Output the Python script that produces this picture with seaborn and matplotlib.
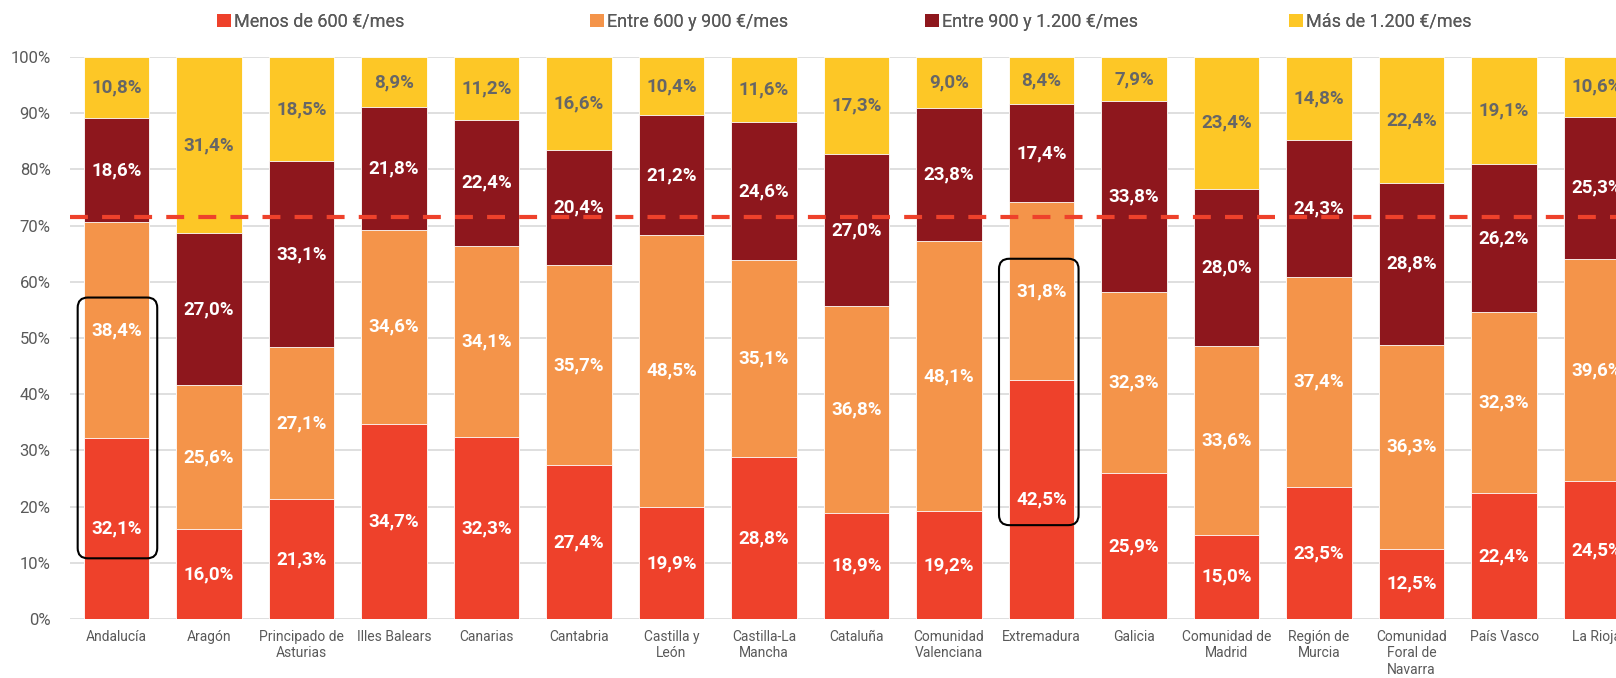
"""Distribución de ingresos por comunidad autónoma (barras apiladas al 100%)."""

import matplotlib.pyplot as plt
import numpy as np
import seaborn as sns
from matplotlib.patches import FancyBboxPatch, Patch

# ---------------------------------------------------------------------------
# Data
# ---------------------------------------------------------------------------

regions = [
    "Andalucía", "Aragón", "Principado de\nAsturias", "Illes Balears", "Canarias",
    "Cantabria", "Castilla y\nLeón", "Castilla-La\nMancha", "Cataluña",
    "Comunidad\nValenciana", "Extremadura", "Galicia", "Comunidad de\nMadrid",
    "Región de\nMurcia", "Comunidad\nForal de\nNavarra", "País Vasco", "La Rioja",
]
menos_600 = [32.1, 16.0, 21.3, 34.7, 32.3, 27.4, 19.9, 28.8, 18.9, 19.2, 42.5, 25.9, 15.0, 23.5, 12.5, 22.4, 24.5]
entre_600_900 = [38.4, 25.6, 27.1, 34.6, 34.1, 35.7, 48.5, 35.1, 36.8, 48.1, 31.8, 32.3, 33.6, 37.4, 36.3, 32.3, 39.6]
entre_900_1200 = [18.6, 27.0, 33.1, 21.8, 22.4, 20.4, 21.2, 24.6, 27.0, 23.8, 17.4, 33.8, 28.0, 24.3, 28.8, 26.2, 25.3]
mas_1200 = [10.8, 31.4, 18.5, 8.9, 11.2, 16.6, 10.4, 11.6, 17.3, 9.0, 8.4, 7.9, 23.4, 14.8, 22.4, 19.1, 10.6]

series_names = ["Menos de 600 €/mes", "Entre 600 y 900 €/mes",
                "Entre 900 y 1.200 €/mes", "Más de 1.200 €/mes"]
series_colors = ["#EE412B", "#F4944A", "#8E171D", "#FDC726"]
label_colors = ["white", "white", "white", "#666666"]

reference_line = 71.5          # dashed horizontal reference
highlighted = {"Andalucía": (-0.42, 0.44, 10.8, 57.2),
               "Extremadura": (-0.46, 0.40, 16.7, 64.1)}

# ---------------------------------------------------------------------------
# Plot
# ---------------------------------------------------------------------------

sns.set_theme(style="white")
plt.rcParams["font.family"] = ["Roboto", "DejaVu Sans"]

fig = plt.figure(figsize=(16.16, 6.78), dpi=100)
ax = fig.add_axes([70 / 1616, 59 / 678, 1 - 70 / 1616, 562 / 678])

layers = np.array([menos_600, entre_600_900, entre_900_1200, mas_1200])
# 100% stacked: rescale so rounding (99.9 / 100.1) still fills the bar.
shares = layers / layers.sum(axis=0) * 100
cum = np.cumsum(shares, axis=0)

# Draw cumulative totals from the top layer down so each layer sits on the previous one.
for k in range(len(layers) - 1, -1, -1):
    sns.barplot(x=regions, y=cum[k], order=regions, color=series_colors[k],
                width=0.71, edgecolor="white", linewidth=0.6, saturation=1,
                ax=ax, zorder=2)

# Segment labels at the centre of each segment (original values as text).
for k, vals in enumerate(layers):
    centres = cum[k] - shares[k] / 2
    for i, v in enumerate(vals):
        ax.text(i, centres[i], f"{v:.1f}%".replace(".", ","),
                ha="center", va="center", fontsize=13.5, fontweight="bold",
                color=label_colors[k], zorder=4)

ax.axhline(reference_line, color="#EE412B", linestyle=(0, (4.3, 3.4)),
           linewidth=3, zorder=5)

# Rounded highlight boxes.
for name, (x0, x1, y0, y1) in highlighted.items():
    i = regions.index(name)
    box = FancyBboxPatch((i + x0, y0), x1 - x0, y1 - y0,
                         boxstyle="round,pad=0,rounding_size=0.11",
                         mutation_aspect=16.5, fill=False, edgecolor="black",
                         linewidth=1.5, zorder=6, clip_on=False)
    ax.add_patch(box)

ax.set_ylim(0, 100)
ax.set_xlim(-0.503, 16.21)
ax.set_yticks(np.arange(0, 101, 10))
ax.set_yticklabels([f"{t}%" for t in range(0, 101, 10)])
ax.yaxis.grid(True, color="#D9D9D9", linewidth=1.2, zorder=0)
ax.set_axisbelow(True)
ax.tick_params(axis="y", labelsize=12, colors="#595959", length=0, pad=14)
ax.tick_params(axis="x", labelsize=10, colors="#595959", length=0, pad=8)
for spine in ax.spines.values():
    spine.set_visible(False)
ax.set_xlabel("")
ax.set_ylabel("")

# Legend: one entry per slot across the top.
legend_x = [217, 590, 925, 1289]
for name, color, x in zip(series_names, series_colors, legend_x):
    leg = fig.legend(handles=[Patch(facecolor=color, edgecolor="none", label=name)],
                     loc="center left", bbox_to_anchor=(x / 1616, 1 - 22 / 678),
                     frameon=False, fontsize=13, handlelength=0.75,
                     handleheight=0.75, handletextpad=0.2, borderaxespad=0,
                     borderpad=0, labelcolor="#595959")
    fig.add_artist(leg)

fig.savefig("out.png", dpi=100)
plt.close(fig)
